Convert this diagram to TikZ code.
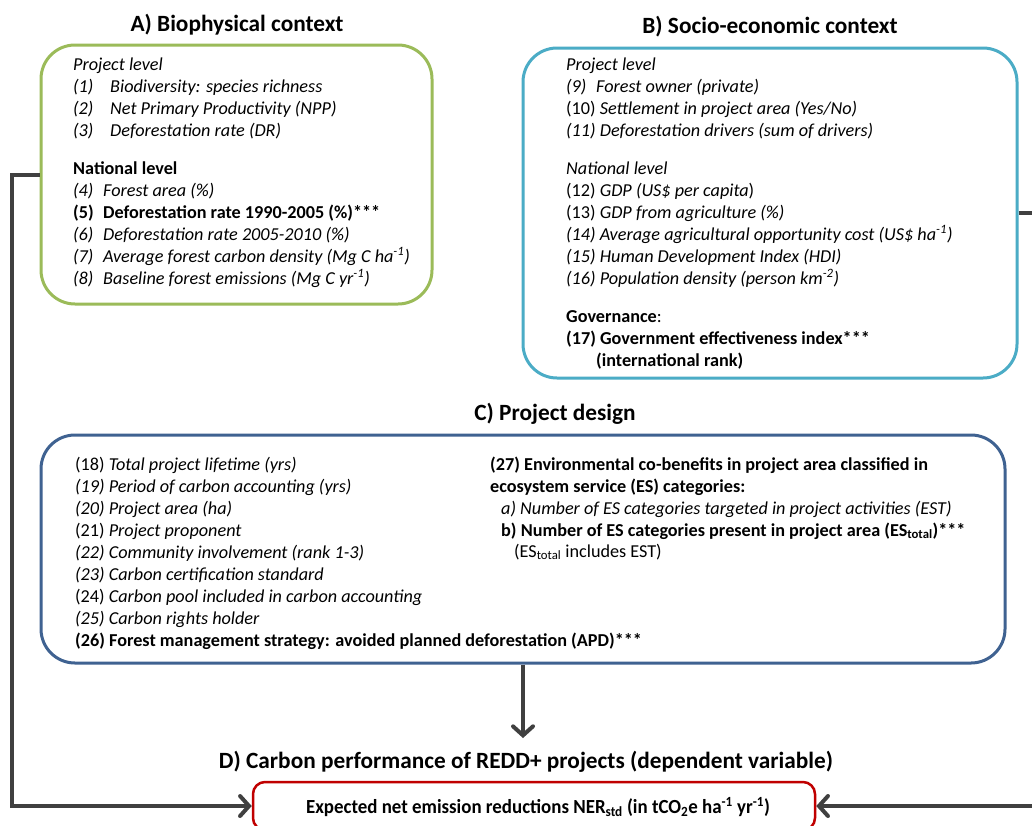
\documentclass[tikz,border=0pt]{standalone}
\usepackage{fontspec}
\setmainfont{Carlito}
\usetikzlibrary{arrows.meta}
\definecolor{cgreen}{HTML}{9BBB59}
\definecolor{cblue}{HTML}{4BACC6}
\definecolor{cdblue}{HTML}{3F6291}
\definecolor{cred}{HTML}{C00000}
\definecolor{cline}{HTML}{404040}
\tikzset{
  txt/.style={anchor=base west, inner sep=0pt, font=\fontsize{18.2}{21}\selectfont},
  ttl/.style={inner sep=0pt, font=\fontsize{23.3}{26}\selectfont\bfseries},
  panel/.style={draw, line width=3pt, rounded corners=34pt, inner sep=0pt},
  conn/.style={draw=cline, line width=4pt, -{Straight Barb[length=9pt,width=20pt,line cap=round]}},
}
\begin{document}
\begin{tikzpicture}[x=1pt,y=-1pt]
\clip (0,0) rectangle (1032,825);
\fill[white] (0,0) rectangle (1032,825);
% titles
\node[ttl] (tA) at (237,25) {A) Biophysical context};
\node[ttl] (tB) at (770,27) {B) Socio-economic context};
\node[ttl] (tC) at (555,414) {C) Project design};
\node[ttl] (tD) at (526,762) {D) Carbon performance of REDD+ projects (dependent variable)};
% panels
\node[panel, draw=cgreen, minimum width=391pt, minimum height=259pt] (A) at (236.5,174.5) {};
\node[panel, draw=cblue, minimum width=494pt, minimum height=330pt] (B) at (770,213) {};
\node[panel, draw=cdblue, minimum width=964pt, minimum height=228pt] (C) at (523,549) {};
\node[draw=cred, line width=2.5pt, rounded corners=12pt, minimum width=562pt, minimum height=48pt, inner sep=0pt] (D) at (534,806) {};
\node[inner sep=0pt, font=\fontsize{20}{22}\selectfont\bfseries] (Dtxt) at (538,807) {\scalebox{0.945}[1]{Expected net emission reductions NER\textsubscript{std} (in tCO\textsubscript{2}e ha\textsuperscript{-1} yr\textsuperscript{-1})}};
% A text
\node[txt] (a0) at (73,70) {\itshape Project level};
\node[txt] (a1) at (73,92) {\itshape (1)};
\node[txt] (a1t) at (110,92) {\itshape Biodiversity: species richness};
\node[txt] (a2) at (73,114) {\itshape (2)};
\node[txt] (a2t) at (110,114) {\itshape Net Primary Productivity (NPP)};
\node[txt] (a3) at (73,136) {\itshape (3)};
\node[txt] (a3t) at (110,136) {\itshape Deforestation rate (DR)};
\node[txt] (an) at (73,174) {\bfseries National level};
\node[txt] (a4) at (73,196) {\itshape (4)};
\node[txt] (a4t) at (103,196) {\itshape Forest area (\%)};
\node[txt] (a5) at (73,218) {\bfseries (5)};
\node[txt] (a5t) at (103,218) {\bfseries Deforestation rate 1990-2005 (\%)***};
\node[txt] (a6) at (73,240) {\itshape (6)};
\node[txt] (a6t) at (103,240) {\itshape Deforestation rate 2005-2010 (\%)};
\node[txt] (a7) at (73,262) {\itshape (7)};
\node[txt] (a7t) at (103,262) {\itshape Average forest carbon density (Mg C ha\textsuperscript{-1})};
\node[txt] (a8) at (73,284) {\itshape (8)};
\node[txt] (a8t) at (103,284) {\itshape Baseline forest emissions (Mg C yr\textsuperscript{-1})};
% B text
\node[txt] (b0) at (566,70) {\itshape Project level};
\node[txt] (b9) at (566,92) {\itshape (9)};
\node[txt] (b9t) at (596,92) {\itshape Forest owner (private)};
\node[txt] (b10) at (566,114) {(10) \itshape Settlement in project area (Yes/No)};
\node[txt] (b11) at (566,136) {\itshape (11) Deforestation drivers (sum of drivers)};
\node[txt] (bn) at (566,174) {\itshape National level};
\node[txt] (b12) at (566,196) {(12) \itshape GDP (US\$ per capita\upshape)};
\node[txt] (b13) at (566,218) {(13) \itshape GDP from agriculture (\%)};
\node[txt] (b14) at (566,240) {\itshape (14) Average agricultural opportunity cost (US\$ ha\textsuperscript{-1})};
\node[txt] (b15) at (566,262) {\itshape (15) Human Development Index (HDI)};
\node[txt] (b16) at (566,284) {\itshape (16) Population density (person km\textsuperscript{-2})};
\node[txt] (bg) at (566,322) {\bfseries Governance\mdseries:};
\node[txt] (b17) at (566,344) {\bfseries (17) Government effectiveness index***};
\node[txt] (b17b) at (596,366) {\bfseries (international rank)};
% C text left
\node[txt] (c18) at (75,470) {(18) \itshape Total project lifetime (yrs)};
\node[txt] (c19) at (75,492) {\itshape (19) Period of carbon accounting (yrs)};
\node[txt] (c20) at (75,514) {\itshape (20) Project area (ha)};
\node[txt] (c21) at (75,536) {(21) \itshape Project proponent};
\node[txt] (c22) at (75,558) {\itshape (22) Community involvement (rank 1-3)};
\node[txt] (c23) at (75,580) {\itshape (23) Carbon certification standard};
\node[txt] (c24) at (75,602) {(24) \itshape Carbon pool included in carbon accounting};
\node[txt] (c25) at (75,624) {\itshape (25) Carbon rights holder};
\node[txt] (c26) at (75,646) {\bfseries (26) Forest management strategy: avoided planned deforestation (APD)***};
% C text right
\node[txt] (c27) at (490,470) {\bfseries (27) Environmental co-benefits in project area classified in};
\node[txt] (c27b) at (490,492) {\bfseries ecosystem service (ES) categories:};
\node[txt] (c27c) at (501,514) {\itshape a) Number of ES categories targeted in project activities (EST)};
\node[txt] (c27d) at (501,536) {\bfseries b) Number of ES categories present in project area (ES\textsubscript{total})***};
\node[txt] (c27e) at (514,557) {(ES\textsubscript{total} includes EST)};
% connectors
\coordinate (Lc) at (12,806);
\coordinate (Rc1) at (1045,213);
\coordinate (Rc2) at (1045,806);
\coordinate (Dtip) at (523,738);
\draw[conn] (A.west) -| (Lc) -- (D.west);
\draw[conn] (B.east) -- (Rc1) -- (Rc2) -- (D.east);
\draw[conn] (C.south) -- (Dtip);
\end{tikzpicture}
\end{document}
